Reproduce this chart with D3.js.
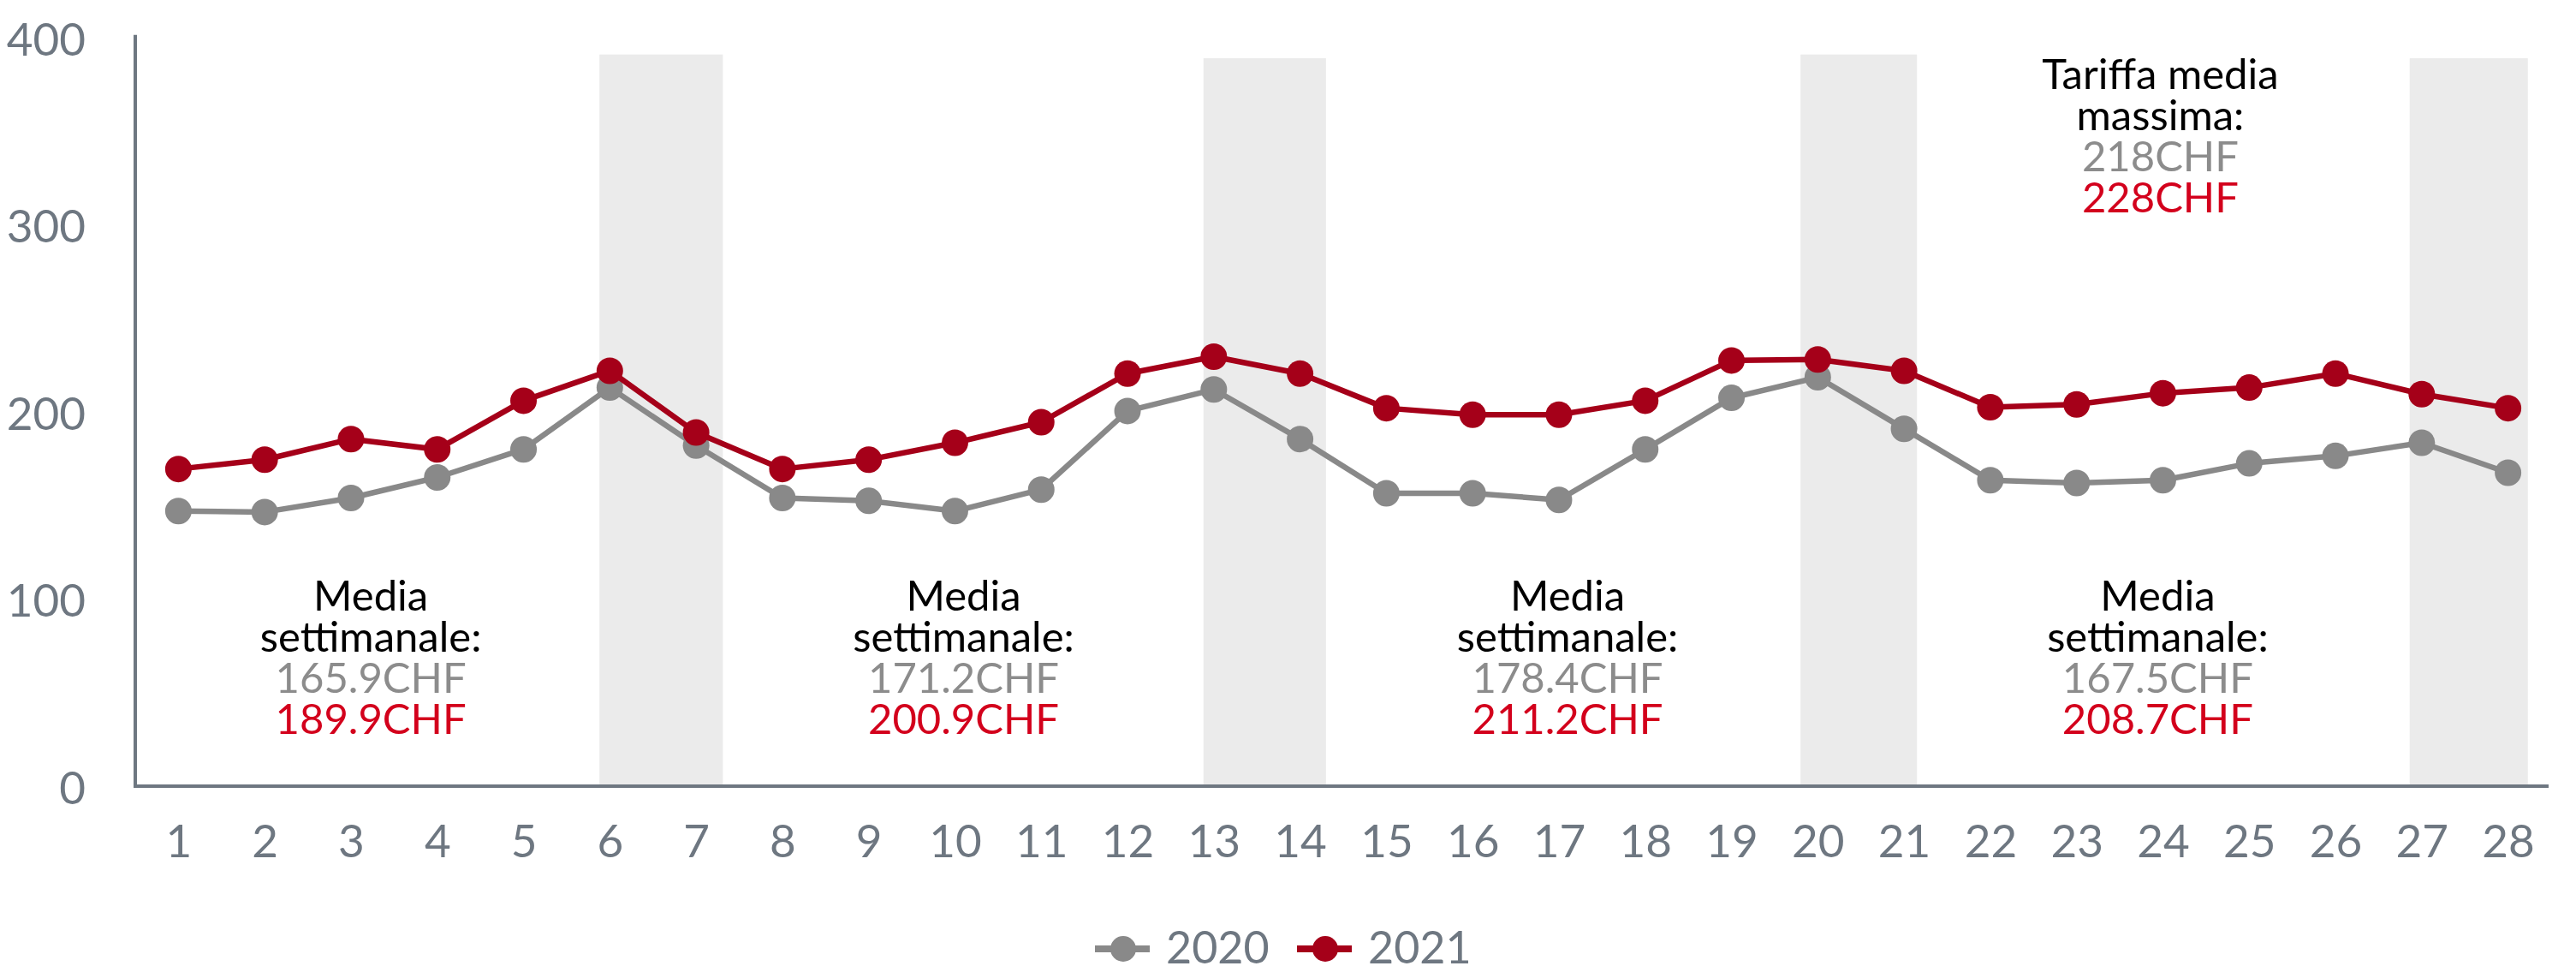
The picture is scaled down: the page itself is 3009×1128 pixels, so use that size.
<!DOCTYPE html>
<html>
<head>
<meta charset="utf-8">
<script src="https://cdn.jsdelivr.net/npm/d3@7/dist/d3.min.js"></script>
<style>
  html, body { margin: 0; padding: 0; background: #fff; }
  #chart { width: 3009px; height: 1128px; }
  svg text { font-family: Lato, "Open Sans", sans-serif; }
</style>
</head>
<body>
<div id="chart"></div>
<script>
'use strict';

const W = 3009, H = 1128;

// Data
const days = [1, 2, 3, 4, 5, 6, 7, 8, 9, 10, 11, 12, 13, 14,
              15, 16, 17, 18, 19, 20, 21, 22, 23, 24, 25, 26, 27, 28];
const series2020 = [147, 146.5, 154, 165, 180, 213, 182, 154, 152.5, 147, 158.5, 200.5, 212, 185.5,
                    156.5, 156.5, 153, 180, 207.5, 218.5, 191, 163.5, 162, 163.5, 172.5, 176.5, 183.5, 167.5];
const series2021 = [169.5, 174.5, 185.5, 180, 206, 222, 189, 169.5, 174.5, 183.5, 194.5, 220.5, 229.5, 220.5,
                    202, 198.5, 198.5, 206, 227.5, 228, 222, 202.5, 204, 210, 213, 220.5, 209.5, 202];
const yTicks = [0, 100, 200, 300, 400];

// weekend shading: start/end in day units, and bar height
const weekendFrom = [5.88, 12.88, 19.8, 26.86];
const weekendTo = [7.31, 14.3, 21.15, 28.23];
const weekendValue = [391, 389, 391, 389];

// annotation boxes
const noteDay = [3.23, 10.1, 17.1, 23.94];
const noteTitle = ['Media', 'settimanale:'];
const noteAvg2020 = ['165.9CHF', '171.2CHF', '178.4CHF', '167.5CHF'];
const noteAvg2021 = ['189.9CHF', '200.9CHF', '211.2CHF', '208.7CHF'];
const maxTitle = ['Tariffa media', 'massima:'];
const max2020 = '218CHF';
const max2021 = '228CHF';

const legendLabels = ['2020', '2021'];

const COLORS = {
  s2020: '#898989',
  s2021: '#a50019',
  txt2020: '#8c8c8c',
  txt2021: '#d3001c',
  axis: '#6e7781',
  shade: '#ebebeb',
};

const svg = d3.select('#chart').append('svg')
  .attr('width', W).attr('height', H);

const x = d3.scaleLinear().domain([0.5, 28.5]).range([158, 2980]);
const y = d3.scaleLinear().domain([0, 400]).range([918, 44]);

// Weekend shading
svg.append('g').selectAll('rect')
  .data(weekendFrom.map((d, i) => ({ a: d, b: weekendTo[i], v: weekendValue[i] })))
  .join('rect')
  .attr('x', s => x(s.a))
  .attr('width', s => x(s.b) - x(s.a))
  .attr('y', s => y(s.v))
  .attr('height', s => y(0) - y(s.v))
  .attr('fill', COLORS.shade);

// Axes
const yAxis = svg.append('g')
  .attr('transform', `translate(${x(0.5)},0)`)
  .call(d3.axisLeft(y).tickValues(yTicks).tickSize(0).tickPadding(58));
yAxis.select('.domain').remove();
yAxis.selectAll('text')
  .attr('font-size', 53).attr('fill', COLORS.axis)
  .attr('font-family', 'Lato').attr('dy', '0.38em');

const xAxis = svg.append('g')
  .attr('transform', `translate(0,${y(0)})`)
  .call(d3.axisBottom(x).tickValues(days).tickFormat(d3.format('d')).tickSize(0).tickPadding(45));
xAxis.select('.domain').remove();
xAxis.selectAll('text')
  .attr('font-size', 53).attr('fill', COLORS.axis).attr('font-family', 'Lato');

svg.append('line')
  .attr('x1', x(0.5)).attr('x2', x(0.5))
  .attr('y1', y(401.5)).attr('y2', y(0))
  .attr('stroke', COLORS.axis).attr('stroke-width', 4);
svg.append('line')
  .attr('x1', x(0.5) - 2).attr('x2', x(28.47))
  .attr('y1', y(0)).attr('y2', y(0))
  .attr('stroke', COLORS.axis).attr('stroke-width', 4);

// Series
function drawSeries(values, color) {
  const pts = values.map((v, i) => [days[i], v]);
  svg.append('path')
    .datum(pts)
    .attr('fill', 'none')
    .attr('stroke', color)
    .attr('stroke-width', 6.5)
    .attr('stroke-linejoin', 'round')
    .attr('d', d3.line().x(p => x(p[0])).y(p => y(p[1])));
  svg.append('g').selectAll('circle')
    .data(pts)
    .join('circle')
    .attr('cx', p => x(p[0]))
    .attr('cy', p => y(p[1]))
    .attr('r', 15.5)
    .attr('fill', color);
}
drawSeries(series2020, COLORS.s2020);
drawSeries(series2021, COLORS.s2021);

// Annotations
function drawNote(cx, topY, titleLines, v2020, v2021) {
  const t = svg.append('text')
    .attr('text-anchor', 'middle')
    .attr('font-size', 49);
  const lines = titleLines.map(s => ({ s, c: '#000' }))
    .concat([{ s: v2020, c: COLORS.txt2020 }, { s: v2021, c: COLORS.txt2021 }]);
  lines.forEach((l, i) => {
    t.append('tspan')
      .attr('x', cx)
      .attr('y', topY + i * 48)
      .attr('fill', l.c)
      .text(l.s);
  });
}
noteDay.forEach((d, i) => {
  drawNote(x(d), y(93.8), noteTitle, noteAvg2020[i], noteAvg2021[i]);
});
drawNote(x(23.97), y(372.5), maxTitle, max2020, max2021);

// Legend
const legendColors = [COLORS.s2020, COLORS.s2021];
const legendX = [1279, 1515];
const legY = 1108;
legendLabels.forEach((lab, i) => {
  const g = svg.append('g').attr('transform', `translate(${legendX[i]},${legY})`);
  g.append('line').attr('x1', 0).attr('x2', 64).attr('y1', 0).attr('y2', 0)
    .attr('stroke', legendColors[i]).attr('stroke-width', 8);
  g.append('circle').attr('cx', 33).attr('cy', 0).attr('r', 15).attr('fill', legendColors[i]);
  g.append('text').attr('x', 83).attr('y', 0).attr('dy', '0.32em')
    .attr('font-size', 52).attr('fill', COLORS.axis).text(lab);
});
</script>
</body>
</html>
